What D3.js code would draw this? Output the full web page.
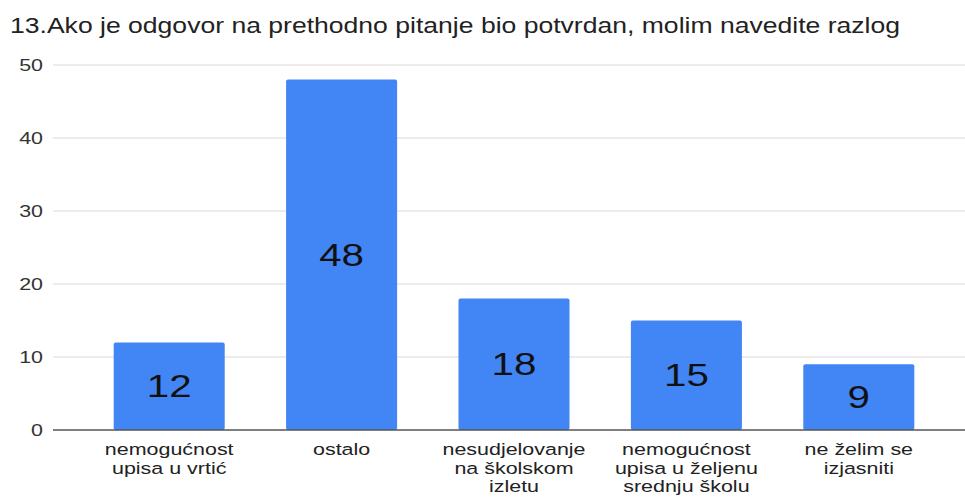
<!DOCTYPE html>
<html>
<head>
<meta charset="utf-8">
<script src="https://cdn.jsdelivr.net/npm/d3@7"></script>
<style>
  body { margin: 0; background: #fff; }
  svg { display: block; font-family: "Liberation Sans", Arial, sans-serif; }
</style>
</head>
<body>
<div class="container"></div>
<script>
// chart data
const title = '13.Ako je odgovor na prethodno pitanje bio potvrdan, molim navedite razlog'
const categories = [
    ['nemogućnost', 'upisa u vrtić'],
    ['ostalo'],
    ['nesudjelovanje', 'na školskom', 'izletu'],
    ['nemogućnost', 'upisa u željenu', 'srednju školu'],
    ['ne želim se', 'izjasniti']
]
const values = [12, 48, 18, 15, 9]
const yTicks = [0, 10, 20, 30, 40, 50]

const width = 965, height = 497
const margin = { top: 65, right: 20, bottom: 67, left: 83 }

// text in the reference is drawn a bit wider than normal
const STRETCH = 1.3

const svg = d3.select('div.container').append('svg')
    .attr('width', width)
    .attr('height', height)

// scales
const x = d3.scaleBand()
    .domain(d3.range(values.length))
    .range([margin.left, width - margin.right])
    .paddingInner(0.356)
    .paddingOuter(0.178)

const y = d3.scaleLinear()
    .domain([0, 50])
    .range([height - margin.bottom, margin.top])

// title
svg.append('text')
    .attr('x', 10)
    .attr('y', 33)
    .attr('font-size', 22.5)
    .attr('fill', '#222')
    .attr('textLength', 890)
    .attr('lengthAdjust', 'spacingAndGlyphs')
    .text(title)

// gridlines
svg.selectAll('.grid')
    .data(yTicks.slice(1))
    .enter().append('line')
    .attr('class', 'grid')
    .attr('x1', 53).attr('x2', width)
    .attr('y1', d => y(d)).attr('y2', d => y(d))
    .attr('stroke', '#d9d9d9')
    .attr('stroke-width', 1)

// y tick labels
svg.selectAll('.ytick')
    .data(yTicks)
    .enter().append('text')
    .attr('class', 'ytick')
    .attr('transform', d => `translate(43,${y(d)}) scale(${STRETCH},1)`)
    .attr('dy', '0.36em')
    .attr('text-anchor', 'end')
    .attr('font-size', 16.5)
    .attr('fill', '#333')
    .text(d => d)

// bars
svg.selectAll('.bar')
    .data(values)
    .enter().append('rect')
    .attr('class', 'bar')
    .attr('x', (d, i) => x(i))
    .attr('y', d => y(d))
    .attr('width', x.bandwidth())
    .attr('height', d => y(0) - y(d))
    .attr('rx', 2)
    .attr('fill', '#4285f4')

// value labels inside bars
svg.selectAll('.val')
    .data(values)
    .enter().append('text')
    .attr('class', 'val')
    .attr('transform', (d, i) =>
        `translate(${x(i) + x.bandwidth() / 2},${(y(d) + y(0)) / 2}) scale(${STRETCH},1)`)
    .attr('dy', '0.36em')
    .attr('text-anchor', 'middle')
    .attr('font-size', 31)
    .attr('fill', '#111')
    .text(d => d)

// baseline
svg.append('line')
    .attr('x1', 53).attr('x2', width)
    .attr('y1', y(0)).attr('y2', y(0))
    .attr('stroke', '#555')
    .attr('stroke-width', 1.5)

// category labels
categories.forEach((lines, i) => {
    svg.selectAll('.cat' + i)
        .data(lines)
        .enter().append('text')
        .attr('class', 'cat cat' + i)
        .attr('transform', (d, j) =>
            `translate(${x(i) + x.bandwidth() / 2},${y(0) + 25 + j * 18.7}) scale(${STRETCH},1)`)
        .attr('text-anchor', 'middle')
        .attr('font-size', 16.5)
        .attr('fill', '#222')
        .text(d => d)
})
</script>
</body>
</html>
